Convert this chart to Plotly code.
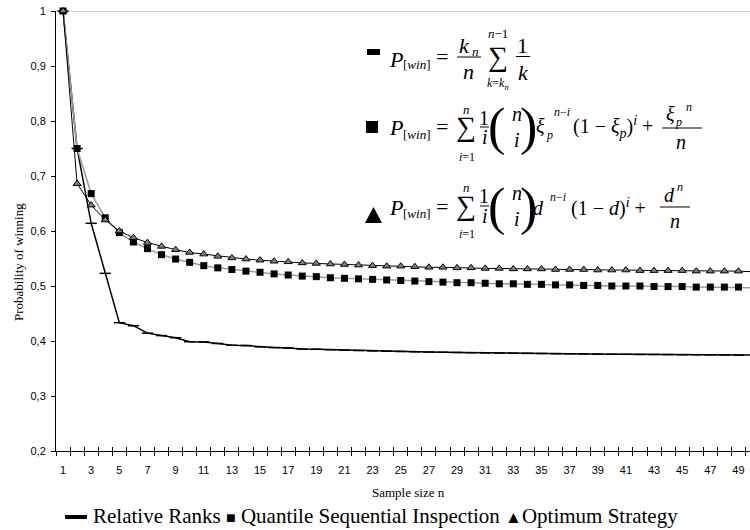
import plotly.graph_objects as go

# ---------------- data ----------------
sample_size = list(range(1, 51))

relative_ranks = [1.000, 0.750, 0.614, 0.523, 0.4333, 0.4278, 0.4143, 0.4098, 0.4060, 0.3987,
                  0.3984, 0.3955, 0.3923, 0.3917, 0.3894, 0.3881, 0.3873, 0.3854, 0.3850, 0.3842,
                  0.3834, 0.3827, 0.3820, 0.3814, 0.3809, 0.3804, 0.3799, 0.3795, 0.3791, 0.3787,
                  0.3784, 0.3781, 0.3777, 0.3775, 0.3772, 0.3769, 0.3767, 0.3765, 0.3762, 0.3760,
                  0.3758, 0.3756, 0.3755, 0.3753, 0.3751, 0.3750, 0.3748, 0.3747, 0.3745, 0.3744]

quantile_inspection = [1.000, 0.750, 0.668, 0.624, 0.597, 0.580, 0.568, 0.557, 0.549, 0.543,
                       0.537, 0.533, 0.530, 0.527, 0.525, 0.522, 0.520, 0.518, 0.517, 0.515,
                       0.514, 0.513, 0.512, 0.511, 0.510, 0.509, 0.508, 0.507, 0.506, 0.506,
                       0.505, 0.504, 0.504, 0.503, 0.503, 0.502, 0.502, 0.501, 0.501, 0.500,
                       0.500, 0.500, 0.499, 0.499, 0.499, 0.498, 0.498, 0.498, 0.498, 0.497]

optimum_strategy = [1.000, 0.686, 0.647, 0.620, 0.600, 0.588, 0.579, 0.572, 0.566, 0.561,
                    0.558, 0.554, 0.551, 0.549, 0.547, 0.545, 0.544, 0.542, 0.541, 0.540,
                    0.539, 0.538, 0.537, 0.536, 0.536, 0.535, 0.534, 0.534, 0.533, 0.533,
                    0.532, 0.532, 0.531, 0.531, 0.531, 0.530, 0.530, 0.530, 0.529, 0.529,
                    0.529, 0.528, 0.528, 0.528, 0.528, 0.527, 0.527, 0.527, 0.527, 0.526]

y_tick_values = [0.2, 0.3, 0.4, 0.5, 0.6, 0.7, 0.8, 0.9, 1.0]
y_tick_labels = ["0,2", "0,3", "0,4", "0,5", "0,6", "0,7", "0,8", "0,9", "1"]
x_tick_values = list(range(1, 50, 2))
x_tick_labels = [str(v) for v in x_tick_values]
x_boundaries = [v + 0.5 for v in range(0, 50)]

# ---------------- layout geometry ----------------
W, H = 750, 530
ML, MR, MT, MB = 56, 0, 11, 79
PW, PH = W - ML - MR, H - MT - MB
SERIF = "Liberation Serif"
SANS = "Liberation Sans"


def px(x):
    return (x - ML) / PW


def py(y):
    return (H - MB - y) / PH


annotations = []
shapes = []


def txt(x, y, text, size, anchor="center", family=SERIF, angle=0):
    annotations.append(dict(x=px(x), y=py(y), xref="paper", yref="paper", text=text,
                            showarrow=False, xanchor=anchor, yanchor="middle",
                            font=dict(family=family, size=size, color="black"),
                            textangle=angle, borderpad=0))


def hline(x0, x1, y, w=1):
    shapes.append(dict(type="line", xref="paper", yref="paper", x0=px(x0), x1=px(x1),
                       y0=py(y), y1=py(y), line=dict(color="black", width=w)))


def rect(x0, y0, x1, y1):
    shapes.append(dict(type="rect", xref="paper", yref="paper", x0=px(x0), x1=px(x1),
                       y0=py(y0), y1=py(y1), fillcolor="black", line=dict(width=0)))


# ---------------- traces ----------------
fig = go.Figure()
fig.add_trace(go.Scatter(x=sample_size, y=relative_ranks, mode="lines+markers",
                         name="Relative Ranks", cliponaxis=False,
                         line=dict(color="black", width=1.5),
                         marker=dict(symbol="line-ew", size=8, color="black",
                                     line=dict(color="black", width=1.5))))
fig.add_trace(go.Scatter(x=sample_size, y=quantile_inspection, mode="lines+markers",
                         name="Quantile Sequential Inspection", cliponaxis=False,
                         line=dict(color="#9a9a9a", width=1.5),
                         marker=dict(symbol="square", size=7, color="black",
                                     line=dict(width=0))))
fig.add_trace(go.Scatter(x=sample_size, y=optimum_strategy, mode="lines+markers",
                         name="Optimum Strategy", cliponaxis=False,
                         line=dict(color="black", width=1),
                         marker=dict(symbol="triangle-up", size=7, color="#808080",
                                     line=dict(color="black", width=1))))
# empty trace to carry the inner tick axis
fig.add_trace(go.Scatter(x=[], y=[], xaxis="x2", showlegend=False, hoverinfo="skip"))

# top border of plot area
shapes.append(dict(type="line", xref="paper", yref="y", x0=0, x1=1, y0=1, y1=1,
                   line=dict(color="#a0a0a0", width=1), layer="below"))

SIG = "∑"

# ---------------- formulas ----------------
# Formula 1
rect(367, 49, 380, 55)
txt(395.5, 59, "<i>P</i>", 22)
txt(416, 65, "[<i>win</i>]", 13)
txt(442, 56, "=", 22)
txt(464, 45, "<i>k</i>", 22)
txt(476, 51, "<i>n</i>", 13)
hline(457, 481, 57)
txt(468, 71, "<i>n</i>", 22)
txt(498, 56, SIG, 28)
txt(498, 34, "<i>n</i>−1", 13)
txt(498, 84, "<i>k</i>=<i>k<sub>n</sub></i>", 12)
txt(522, 45, "1", 22)
hline(516, 530, 56.5)
txt(523, 72, "<i>k</i>", 22)

# Formula 2
rect(366, 121, 378, 133)
txt(395.5, 128, "<i>P</i>", 22)
txt(416, 134, "[<i>win</i>]", 13)
txt(442, 126, "=", 22)
txt(466, 126, SIG, 28)
txt(467, 110, "<i>n</i>", 13)
txt(467, 157, "<i>i</i>=1", 12)
txt(484, 118, "1", 20)
hline(480, 489, 127)
txt(485, 137, "<i>i</i>", 20)
txt(496, 127, "(", 52)
txt(517, 114, "<i>n</i>", 20)
txt(517, 140, "<i>i</i>", 20)
txt(528, 127, ")", 52)
txt(540, 126, "<i>ξ</i>", 20)
txt(549, 135, "<i>p</i>", 12)
txt(562, 112, "<i>n</i>−<i>i</i>", 12)
txt(572, 127, "(1 − <i>ξ</i><sub><i>p</i></sub>)<sup><i>i</i></sup> +", 20, anchor="left")
txt(670, 114, "<i>ξ</i>", 20)
txt(678, 122, "<i>p</i>", 12)
txt(689, 107, "<i>n</i>", 12)
hline(662, 702, 128)
txt(681, 142, "<i>n</i>", 20)

# Formula 3
shapes.append(dict(type="path", xref="paper", yref="paper",
                   path="M {:.5f},{:.5f} L {:.5f},{:.5f} L {:.5f},{:.5f} Z".format(
                       px(365), py(223), px(373.5), py(207), px(382), py(223)),
                   fillcolor="black", line=dict(width=0)))
txt(395.5, 207, "<i>P</i>", 22)
txt(416, 213, "[<i>win</i>]", 13)
txt(442, 206, "=", 22)
txt(466, 205, SIG, 28)
txt(467, 187, "<i>n</i>", 13)
txt(467, 234, "<i>i</i>=1", 12)
txt(484, 196, "1", 20)
hline(480, 489, 206)
txt(485, 216, "<i>i</i>", 20)
txt(496, 207, "(", 52)
txt(517, 193, "<i>n</i>", 20)
txt(517, 219, "<i>i</i>", 20)
txt(528, 207, ")", 52)
txt(538, 208, "<i>d</i>", 20)
txt(558, 197, "<i>n</i>−<i>i</i>", 12)
txt(570, 207, "(1 − <i>d</i>)<sup><i>i</i></sup> +", 20, anchor="left")
txt(669, 195, "<i>d</i>", 20)
txt(680, 187, "<i>n</i>", 12)
hline(660, 690, 207)
txt(675, 221, "<i>n</i>", 20)

# ---------------- axis titles & legend ----------------
txt(408, 492, "Sample size n", 13)
txt(18, 262, "Probability of winning", 13, angle=-90)
rect(65, 515, 87, 519)
txt(92, 516, "Relative Ranks <span style=\"font-size:16px\">■</span> Quantile Sequential Inspection "
             "<span style=\"font-size:17px\">▲</span>Optimum Strategy", 21, anchor="left")

fig.update_layout(
    width=W, height=H,
    margin=dict(l=ML, r=MR, t=MT, b=MB, pad=0),
    paper_bgcolor="white", plot_bgcolor="white",
    showlegend=False,
    annotations=annotations,
    shapes=shapes,
    xaxis=dict(range=[0.5, 49.82], showgrid=False, zeroline=False, showline=True,
               linecolor="black", linewidth=1, tickmode="array", tickvals=x_tick_values,
               ticktext=x_tick_labels, ticks="", automargin=False, ticklabelstandoff=9,
               ticklabeloverflow="allow",
               tickfont=dict(family=SANS, size=11, color="black"),
               minor=dict(tickmode="array", tickvals=x_boundaries, ticks="outside",
                          ticklen=4, tickcolor="black", tickwidth=1, showgrid=False)),
    xaxis2=dict(range=[0.5, 49.82], overlaying="x", anchor="y", side="bottom",
                showgrid=False, zeroline=False, showline=False, tickmode="array",
                tickvals=x_boundaries, ticks="inside", ticklen=4, tickcolor="black",
                tickwidth=1, showticklabels=False, automargin=False),
    yaxis=dict(range=[0.2, 1.0], showgrid=False, zeroline=False, showline=True,
               linecolor="black", linewidth=1, tickmode="array", tickvals=y_tick_values,
               ticktext=y_tick_labels, ticks="outside", ticklen=4, tickcolor="black",
               ticklabelstandoff=3, ticklabeloverflow="allow",
               tickfont=dict(family=SANS, size=11, color="black"), automargin=False),
)

fig.write_html("out.html", config={"displayModeBar": False},
               post_script="document.body.style.margin='0px';")
